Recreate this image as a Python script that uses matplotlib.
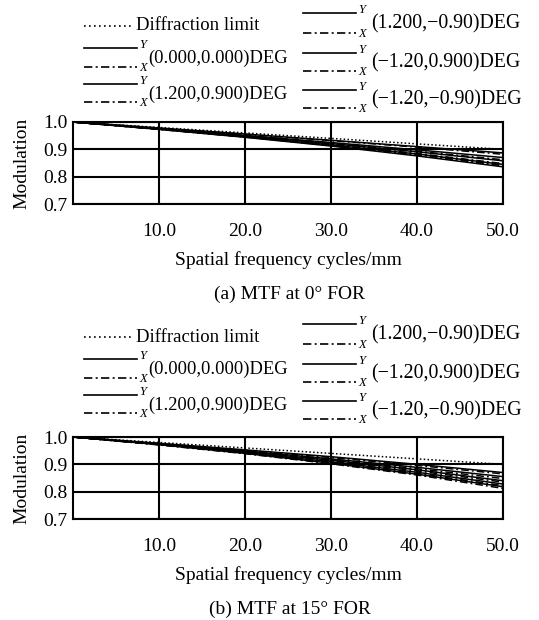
import matplotlib
matplotlib.use("Agg")
import matplotlib.pyplot as plt
from matplotlib.lines import Line2D

plt.rcParams['font.family'] = ['Liberation Serif', 'DejaVu Serif']

freq = [0, 10, 20, 30, 40, 50]
field_labels = ["(0.000,0.000)DEG", "(1.200,0.900)DEG", "(1.200,\u22120.90)DEG",
                "(\u22121.20,0.900)DEG", "(\u22121.20,\u22120.90)DEG"]

diff_a = [1.0, 0.980, 0.960, 0.940, 0.920, 0.900]
a_y = [[1, 0.978, 0.956, 0.933, 0.910, 0.887],
       [1, 0.976, 0.951, 0.925, 0.898, 0.870],
       [1, 0.975, 0.949, 0.921, 0.891, 0.858],
       [1, 0.974, 0.946, 0.916, 0.883, 0.845],
       [1, 0.973, 0.944, 0.912, 0.876, 0.836]]
a_x = [[1, 0.978, 0.955, 0.932, 0.908, 0.882],
       [1, 0.975, 0.949, 0.922, 0.893, 0.862],
       [1, 0.974, 0.947, 0.918, 0.885, 0.848],
       [1, 0.973, 0.945, 0.914, 0.880, 0.840],
       [1, 0.974, 0.946, 0.915, 0.881, 0.842]]

diff_b = [1.0, 0.980, 0.960, 0.940, 0.920, 0.900]
b_y = [[1, 0.977, 0.953, 0.928, 0.900, 0.870],
       [1, 0.975, 0.949, 0.920, 0.889, 0.855],
       [1, 0.974, 0.946, 0.915, 0.880, 0.840],
       [1, 0.973, 0.943, 0.909, 0.871, 0.828],
       [1, 0.972, 0.940, 0.904, 0.864, 0.818]]
b_x = [[1, 0.976, 0.951, 0.925, 0.896, 0.865],
       [1, 0.974, 0.947, 0.917, 0.884, 0.848],
       [1, 0.973, 0.944, 0.912, 0.876, 0.835],
       [1, 0.972, 0.941, 0.906, 0.867, 0.822],
       [1, 0.971, 0.939, 0.902, 0.861, 0.812]]

xticks = [10, 20, 30, 40, 50]
xtick_labels = ["10.0", "20.0", "30.0", "40.0", "50.0"]
yticks = [0.7, 0.8, 0.9, 1.0]
ytick_labels = ["0.7", "0.8", "0.9", "1.0"]
captions = ["(a) MTF at 0\u00b0 FOR", "(b) MTF at 15\u00b0 FOR"]

W, H = 539, 620
fig = plt.figure(figsize=(W / 100, H / 100), dpi=100)

DASHDOT = (0, (5, 2, 1.2, 2))


def px(x, y):
    return x / W, 1 - y / H


def fig_line(x0, x1, y, ls):
    a = px(x0, y)
    b = px(x1, y)
    fig.add_artist(Line2D([a[0], b[0]], [a[1], b[1]], transform=fig.transFigure,
                          color='black', lw=1.2, linestyle=ls))


def fig_text(x, y, s, **kw):
    p = px(x, y)
    fig.text(p[0], p[1], s, **kw)


def draw_legend(off):
    # diffraction limit
    fig_line(84, 134, 26 + off, (0, (1, 2)))
    fig_text(136, 26 + off, "Diffraction limit", fontsize=13.5, va='center', ha='left')
    rows = [(48, 67, 0, 84, 148, 13.3), (84, 102, 1, 84, 148, 13.3),
            (13, 33, 2, 303, 371, 14.3), (53, 71, 3, 303, 371, 14.3),
            (90, 108, 4, 303, 371, 14.3)]
    for ys, yx, i, x0, xt, fs in rows:
        fig_line(x0, x0 + 53, ys + off, '-')
        fig_line(x0, x0 + 53, yx + off, DASHDOT)
        fig_text(x0 + 55, ys + off - 3, "Y", fontsize=9, style='italic', va='center')
        fig_text(x0 + 55, yx + off + 1, "X", fontsize=9, style='italic', va='center')
        fig_text(xt, (ys + yx) / 2 + off + 1, field_labels[i], fontsize=fs, va='center')


def draw_panel(top, bottom, diff, ys, xs, caption, leg_off):
    l, r = 73, 503
    b0 = 1 - bottom / H
    ax = fig.add_axes([l / W, b0, (r - l) / W, (bottom - top) / H])
    ax.plot(freq, diff, color='black', lw=1.1, linestyle=(0, (1, 1.5)))
    for yv, xv in zip(ys, xs):
        ax.plot(freq, yv, color='black', lw=1.1, linestyle='-')
        ax.plot(freq, xv, color='black', lw=1.1, linestyle=DASHDOT)
    ax.set_xlim(0, 50)
    ax.set_ylim(0.7, 1.0)
    ax.set_xticks(xticks)
    ax.set_xticklabels(xtick_labels, fontsize=14)
    ax.set_yticks(yticks)
    ax.set_yticklabels(ytick_labels, fontsize=14)
    ax.tick_params(length=0, pad=4)
    ax.tick_params(axis='x', pad=14)
    ax.grid(True, color='black', lw=1.5)
    for s in ax.spines.values():
        s.set_linewidth(1.5)
    ax.set_xlabel("Spatial frequency cycles/mm", fontsize=14, labelpad=8)
    ax.set_ylabel("Modulation", fontsize=14, labelpad=9)
    fig_text((l + r) / 2 + 2, bottom + 90, caption, fontsize=14, ha='center', va='center')
    draw_legend(leg_off)


draw_panel(122, 204, diff_a, a_y, a_x, captions[0], 0)
draw_panel(437, 519, diff_b, b_y, b_x, captions[1], 311)

fig.savefig("out.png", dpi=100)
